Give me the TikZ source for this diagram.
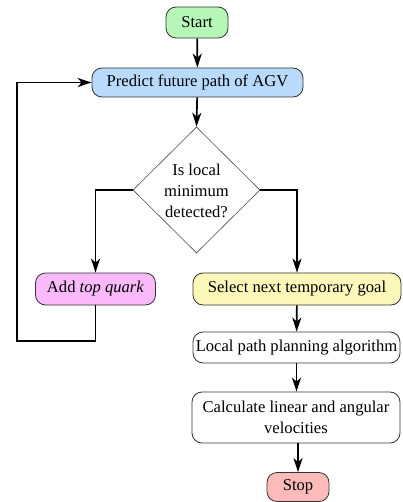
\documentclass[tikz,border=0pt]{standalone}
\usepackage{fontspec}
\setmainfont{Liberation Serif}
\usetikzlibrary{arrows.meta,shapes.geometric}
\definecolor{cstart}{RGB}{182,247,184}
\definecolor{cpred}{RGB}{186,218,252}
\definecolor{cadd}{RGB}{250,186,250}
\definecolor{csel}{RGB}{252,248,186}
\definecolor{cstop}{RGB}{252,186,186}
\begin{document}
\begin{tikzpicture}[x=1pt,y=-1pt,
  box/.style={draw=black!80,line width=0.8pt,rounded corners=10pt,inner sep=0pt,align=center,font=\fontsize{16.6}{21}\selectfont},
  dia/.style={draw=black!70,line width=0.6pt,diamond,inner sep=0pt},
  txt/.style={inner sep=0pt,align=center,font=\fontsize{16.6}{21}\selectfont},
  arr/.style={line width=1.7pt,-{Stealth[length=14pt,width=9pt,inset=4pt]}}]
\useasboundingbox (0,0) rectangle (402,502);
\node[box,fill=cstart,minimum width=62,minimum height=31] (start) at (197,22.5) {Start};
\node[box,fill=cpred,minimum width=211,minimum height=29] (pred) at (197.5,82.5) {Predict future path of AGV};
\node[dia,minimum width=127,minimum height=126] (dec) at (196.5,190) {};
\node[txt] (dectxt) at (196.5,191) {Is local\\minimum\\detected?};
\node[box,fill=cadd,minimum width=120,minimum height=32] (add) at (95.5,289) {Add \textit{top quark}};
\node[box,fill=csel,minimum width=208,minimum height=32] (sel) at (297,289) {Select next temporary goal};
\node[box,fill=white,minimum width=207,minimum height=31] (loc) at (296.5,347.5) {Local path planning algorithm};
\node[box,fill=white,minimum width=208,minimum height=51] (calc) at (296,417.5) {Calculate linear and angular\\velocities};
\node[box,fill=cstop,minimum width=62,minimum height=29] (stop) at (298,487) {Stop};
\coordinate (lb) at (17,341);
\draw[arr] (start) -- (pred);
\draw[arr] (pred) -- (dec.north);
\draw[arr] (dec.west) -| (add.north);
\draw[arr] (dec.east) -| (sel.north);
\draw[arr] (sel) -- (loc);
\draw[arr] (loc) -- (loc |- calc.north);
\draw[arr] (calc.south -| stop) -- (stop);
\draw[arr] (add.south) |- (lb) |- (pred.west);
\end{tikzpicture}
\end{document}
